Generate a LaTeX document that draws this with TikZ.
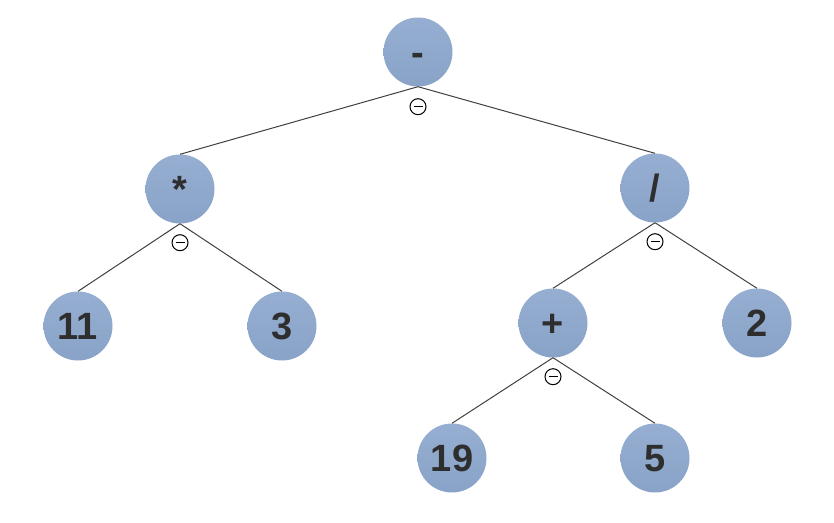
\documentclass[tikz,border=0pt]{standalone}
\usepackage{fontspec}
\setmainfont{Liberation Sans}
\definecolor{nodetop}{RGB}{149,174,209}
\definecolor{nodebot}{RGB}{137,163,200}
\definecolor{txt}{RGB}{46,46,46}
\definecolor{edgec}{RGB}{64,64,64}
\tikzset{
  tnode/.style={circle, minimum size=69pt, inner sep=0pt, top color=nodetop, bottom color=nodebot,
    font=\fontsize{38}{40}\selectfont\bfseries, text=txt, text height=27.5pt, text depth=0pt},
  opmark/.style={circle, draw=black, line width=1pt, minimum size=16pt, inner sep=0pt,
    path picture={\draw[line width=1pt] ([xshift=-4.5pt]path picture bounding box.center) -- ([xshift=4.5pt]path picture bounding box.center);}},
  edge/.style={draw=edgec, line width=1pt}
}
\begin{document}
\begin{tikzpicture}[x=1pt, y=-1pt]
\useasboundingbox (0,0) rectangle (834,522);
\node[tnode] (minus) at (418,52) {-};
\node[tnode] (times) at (180,189) {*};
\node[tnode] (div) at (655,188) {/};
\node[tnode] (n11) at (78,326) {11};
\node[tnode] (n3) at (282,326) {3};
\node[tnode] (plus) at (553,323) {+};
\node[tnode] (n2) at (757,323) {2};
\node[tnode] (n19) at (452,458) {19};
\node[tnode] (n5) at (655,458) {5};
\draw[edge] (minus.south) -- (times.north);
\draw[edge] (minus.south) -- (div.north);
\draw[edge] (times.south) -- (n11.north);
\draw[edge] (times.south) -- (n3.north);
\draw[edge] (div.south) -- (plus.north);
\draw[edge] (div.south) -- (n2.north);
\draw[edge] (plus.south) -- (n19.north);
\draw[edge] (plus.south) -- (n5.north);
\node[opmark] (m1) at ([yshift=-20pt]minus.south) {};
\node[opmark] (m2) at ([yshift=-19pt]times.south) {};
\node[opmark] (m3) at ([yshift=-19pt]div.south) {};
\node[opmark] (m4) at ([yshift=-19pt]plus.south) {};
\end{tikzpicture}
\end{document}
